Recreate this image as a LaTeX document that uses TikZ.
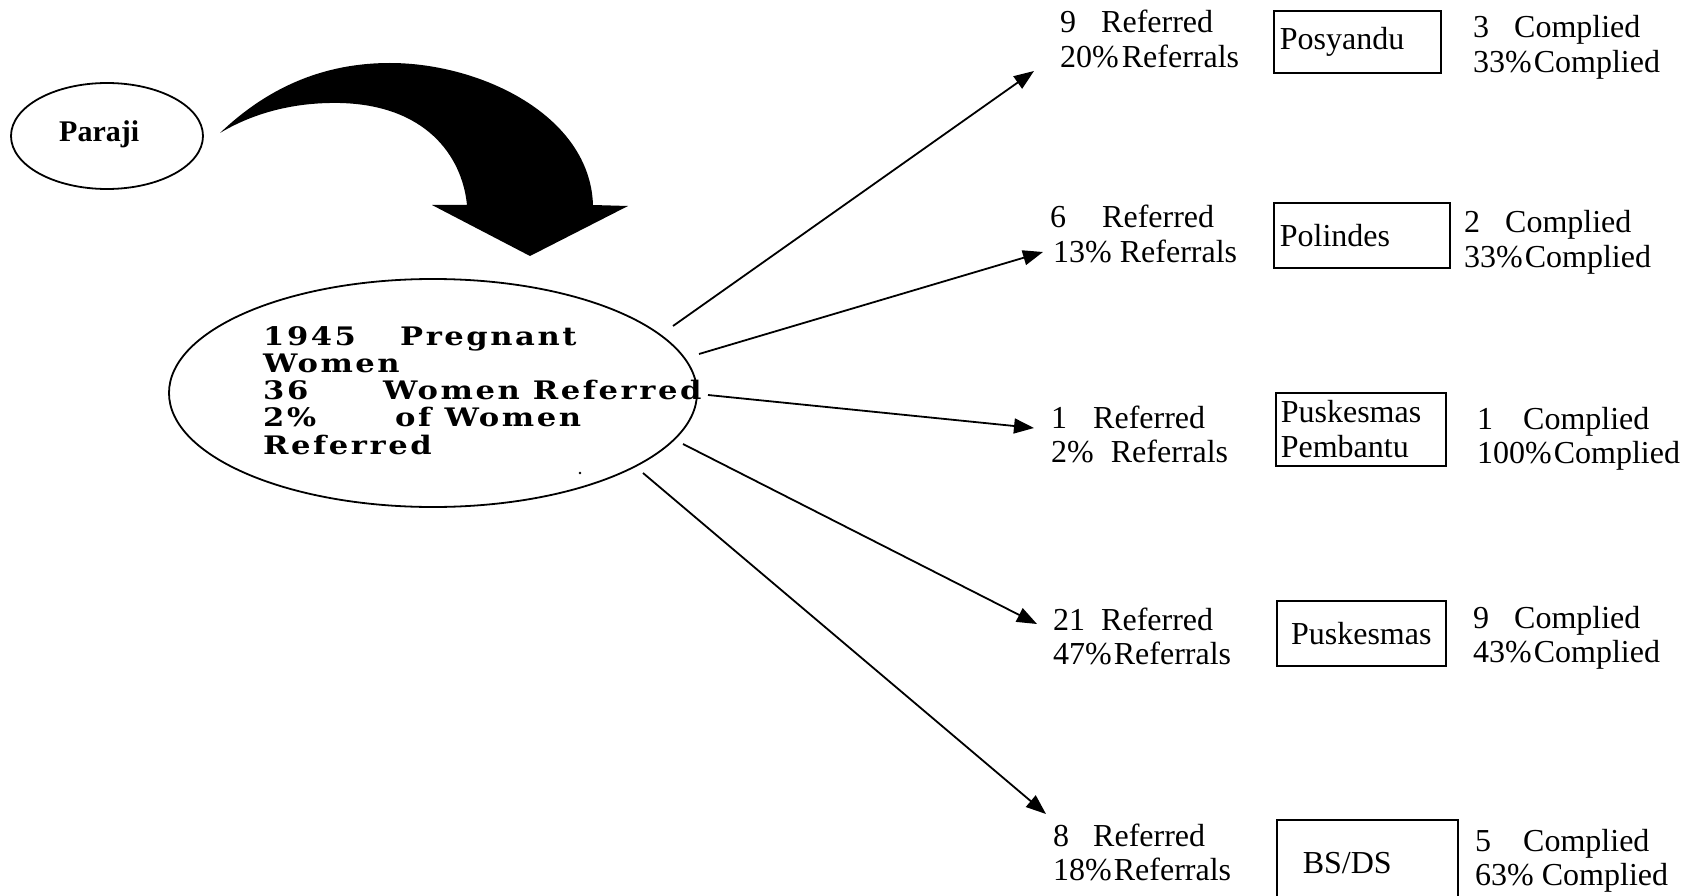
\documentclass[tikz,border=0pt]{standalone}
\usepackage{fontspec}
\setmainfont{Liberation Serif}
\newfontfamily\widebold{DejaVu Serif}[FakeStretch=1.2,LetterSpace=10]
\usetikzlibrary{arrows.meta,shapes.geometric}

\newcommand\reftext{\fontsize{32}{34.5}\selectfont}
\newcommand\hubtext{\widebold\bfseries\fontsize{25.5}{27}\selectfont}
\newcommand\twolines[2]{\begin{tabular}[t]{@{}l@{}}#1\\#2\end{tabular}}

\tikzset{
  conn/.style={line width=1.8pt, -{Triangle[length=20pt,width=15pt]}},
  oval/.style={draw, ellipse, line width=1.8pt, inner sep=0pt},
  txt/.style={inner sep=0pt, anchor=base west, font=\reftext},
  place/.style={draw, line width=1.6pt, inner sep=0pt, anchor=north west, font=\reftext},
}

\begin{document}
\begin{tikzpicture}[x=1pt,y=-1pt]
\useasboundingbox (0,0) rectangle (1694,896);
\clip (0,0) rectangle (1694,896);

% Paraji and the big curved arrow
\node[oval, minimum width=192pt, minimum height=106pt] (paraji) at (107,136) {};
\node[inner sep=0pt, anchor=base west, font=\fontsize{30}{34}\selectfont\bfseries] (parajilabel) at (59,142) {Paraji};
\fill (220,133) .. controls (265,90) and (320,63) .. (390,63)
      .. controls (480,63) and (590,115) .. (593,205)
      -- (628,206) -- (530,256) -- (432,205) -- (467,205)
      .. controls (462,155) and (425,105) .. (340,103)
      .. controls (290,102) and (250,115) .. cycle;

% central ellipse
\node[oval, minimum width=528pt, minimum height=228pt] (hub) at (433,393) {};
\node[inner sep=0pt, anchor=base west, font=\hubtext] (hublabel) at (263,345)
  {\begin{tabular}[t]{@{}l@{}}
   \makebox[137pt][l]{1945}Pregnant\\
   Women\\
   \makebox[120pt][l]{36}Women Referred\\
   \makebox[132pt][l]{2\%}of Women\\
   Referred
   \end{tabular}};
\fill (580,473) circle (1.3);

% referral counts
\node[txt] (ref1) at (1060,33)  {\twolines{9\hspace{25pt}Referred}{20\%\hspace{3pt}Referrals}};
\node[txt] (ref2) at (1050,228) {\twolines{6\hspace{36pt}Referred}{\hspace{3pt}13\% Referrals}};
\node[txt] (ref3) at (1051,428) {\twolines{1\hspace{26pt}Referred}{2\%\hspace{17pt}Referrals}};
\node[txt] (ref4) at (1053,630) {\twolines{21\hspace{16pt}Referred}{47\%\hspace{2pt}Referrals}};
\node[txt] (ref5) at (1053,846) {\twolines{8\hspace{24pt}Referred}{18\%\hspace{2pt}Referrals}};

% facilities
\node[place, minimum width=167pt, minimum height=62pt, text width=155pt, align=left] (posyandu) at (1273,10) {Posyandu};
\node[place, minimum width=176pt, minimum height=65pt, text width=164pt, align=left] (polindes) at (1273,202) {Polindes};
\node[place, minimum width=170pt, minimum height=73pt, text width=160pt, align=left] (pustu) at (1275,392) {Puskesmas\\Pembantu};
\node[place, minimum width=169pt, minimum height=65pt, align=center] (puskesmas) at (1276,600) {Puskesmas};
\node[place, minimum width=181pt, minimum height=86pt, text width=129pt, align=left] (bsds) at (1276,819) {BS/DS};

% compliance counts
\node[txt] (comp1) at (1473,38)  {\twolines{3\hspace{25pt}Complied}{33\%\hspace{2pt}Complied}};
\node[txt] (comp2) at (1464,233) {\twolines{2\hspace{25pt}Complied}{33\%\hspace{2pt}Complied}};
\node[txt] (comp3) at (1477,429) {\twolines{1\hspace{30pt}Complied}{100\%\hspace{2pt}Complied}};
\node[txt] (comp4) at (1473,628) {\twolines{9\hspace{25pt}Complied}{43\%\hspace{2pt}Complied}};
\node[txt] (comp5) at (1475,851) {\twolines{5\hspace{32pt}Complied}{63\% Complied}};

% referral arrows
\coordinate (s1) at (673,326); \coordinate (t1) at (1034,71);
\coordinate (s2) at (699,354); \coordinate (t2) at (1043,252);
\coordinate (s3) at (708,395); \coordinate (t3) at (1034,428);
\coordinate (s4) at (683,444); \coordinate (t4) at (1037,624);
\coordinate (s5) at (643,473); \coordinate (t5) at (1046,814);
\foreach \i in {1,...,5} \draw[conn] (s\i) -- (t\i);
\end{tikzpicture}
\end{document}
